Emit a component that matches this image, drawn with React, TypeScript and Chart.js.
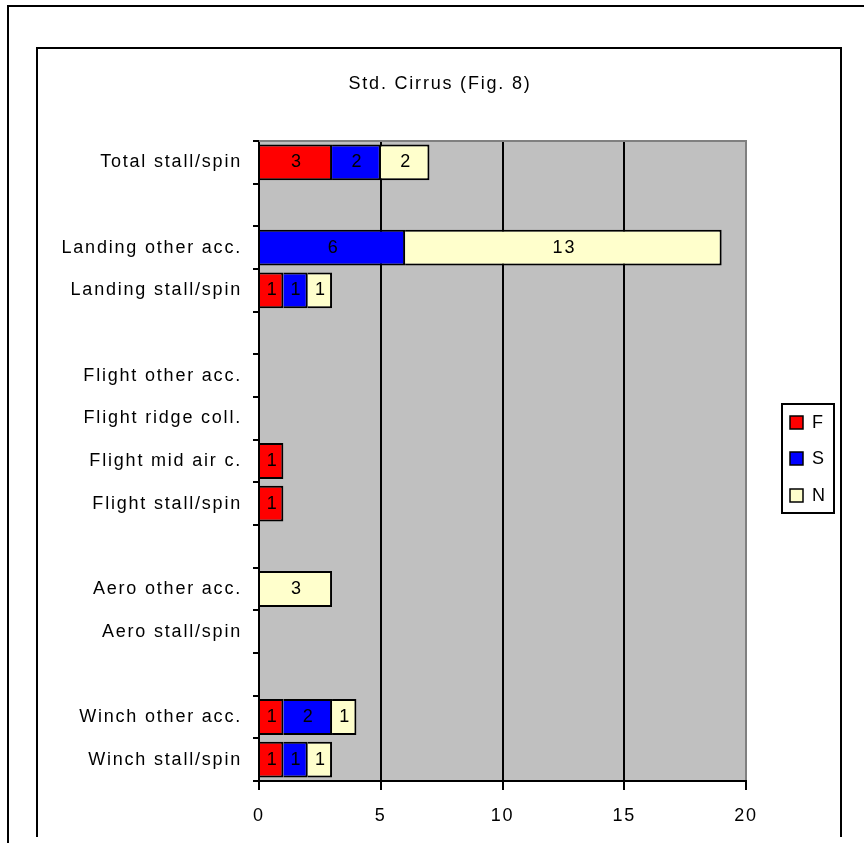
import { useEffect, useRef } from "react";
import { Chart, registerables } from "chart.js";

Chart.register(...registerables);

// Accident categories, top to bottom (blank entries are spacer rows)
const categories = [
  "Total stall/spin",
  "",
  "Landing other acc.",
  "Landing stall/spin",
  "",
  "Flight other acc.",
  "Flight ridge coll.",
  "Flight mid air c.",
  "Flight stall/spin",
  "",
  "Aero other acc.",
  "Aero stall/spin",
  "",
  "Winch other acc.",
  "Winch stall/spin",
];

const seriesNames = ["F", "S", "N"];
const fValues = [3, null, null, 1, null, null, null, 1, 1, null, null, null, null, 1, 1];
const sValues = [2, null, 6, 1, null, null, null, null, null, null, null, null, null, 2, 1];
const nValues = [2, null, 13, 1, null, null, null, null, null, null, 3, null, null, 1, 1];

const xMin = 0;
const xMax = 20;
const xStep = 5;

const chartTitle = "Std. Cirrus (Fig. 8)";

const FONT_FAMILY = "'Liberation Sans', Arial, sans-serif";
const FONT_SIZE = 18;
const SPACING = "1.8px";

const framePlugin = {
  id: "frame",
  beforeDraw(chart: any) {
    const { ctx, chartArea } = chart;
    ctx.save();
    ctx.fillStyle = "#c0c0c0";
    ctx.fillRect(chartArea.left, chartArea.top, chartArea.right - chartArea.left, chartArea.bottom - chartArea.top);
    ctx.restore();
    (ctx as any).letterSpacing = SPACING;
  },
  beforeDatasetsDraw(chart: any) {
    const { ctx, chartArea } = chart;
    ctx.save();
    ctx.strokeStyle = "#808080";
    ctx.lineWidth = 2;
    ctx.beginPath();
    ctx.moveTo(chartArea.left, chartArea.top);
    ctx.lineTo(chartArea.right, chartArea.top);
    ctx.lineTo(chartArea.right, chartArea.bottom - 1);
    ctx.stroke();
    ctx.restore();
  },
  afterDatasetsDraw(chart: any) {
    const { ctx } = chart;
    ctx.save();
    (ctx as any).letterSpacing = SPACING;
    ctx.font = `${FONT_SIZE}px ${FONT_FAMILY}`;
    ctx.fillStyle = "#000";
    ctx.textAlign = "center";
    ctx.textBaseline = "middle";
    chart.data.datasets.forEach((ds: any, di: number) => {
      const meta = chart.getDatasetMeta(di);
      meta.data.forEach((bar: any, i: number) => {
        const v = ds.data[i];
        if (v == null) return;
        const cx = (bar.x + bar.base) / 2 + 1;
        ctx.fillText(String(v), cx, bar.y);
      });
    });
    ctx.restore();
  },
  afterDraw(chart: any) {
    const { ctx } = chart;
    ctx.save();
    (ctx as any).letterSpacing = SPACING;
    ctx.font = `${FONT_SIZE}px ${FONT_FAMILY}`;
    ctx.fillStyle = "#000";
    ctx.textAlign = "center";
    ctx.textBaseline = "middle";
    ctx.fillText(chartTitle, 440, 84);

    // legend box
    ctx.strokeStyle = "#000";
    ctx.lineWidth = 2;
    ctx.strokeRect(782, 404, 52, 109);
    ctx.textAlign = "left";
    const rows = [422, 458, 495];
    chart.data.datasets.forEach((ds: any, di: number) => {
      const y = rows[di];
      ctx.fillStyle = ds.backgroundColor;
      ctx.fillRect(790, y - 6, 13, 13);
      ctx.lineWidth = 1.5;
      ctx.strokeStyle = "#000";
      ctx.strokeRect(790, y - 6, 13, 13);
      ctx.fillStyle = "#000";
      ctx.fillText(ds.label, 812, y + 1);
    });
    ctx.restore();
  },
};

export default function App() {
  const ref = useRef<HTMLCanvasElement>(null);

  useEffect(() => {
    const canvas = ref.current;
    if (!canvas) return;
    const font = { family: FONT_FAMILY, size: FONT_SIZE };
    const chart = new Chart(canvas, {
      type: "bar",
      data: {
        labels: categories,
        datasets: [
          { label: seriesNames[0], data: fValues, backgroundColor: "#ff0000" },
          { label: seriesNames[1], data: sValues, backgroundColor: "#0000ff" },
          { label: seriesNames[2], data: nValues, backgroundColor: "#ffffcc" },
        ],
      },
      options: {
        indexAxis: "y",
        responsive: false,
        maintainAspectRatio: false,
        animation: false,
        layout: { padding: { top: 141, right: 118, left: 0, bottom: 0 } },
        datasets: {
          bar: {
            barPercentage: 0.84,
            categoryPercentage: 1,
            borderColor: "#000",
            borderWidth: 2,
          },
        },
        plugins: {
          legend: { display: false },
          title: { display: false },
          tooltip: { enabled: false },
        },
        scales: {
          x: {
            stacked: true,
            min: xMin,
            max: xMax,
            ticks: { stepSize: xStep, padding: 15, color: "#000", font },
            grid: { color: "#000", lineWidth: 2, tickLength: 9 },
            border: { color: "#000", width: 2 },
            afterFit: (s: any) => {
              s.height = 62;
            },
          },
          y: {
            stacked: true,
            ticks: { autoSkip: false, padding: 11, color: "#000", font },
            grid: { offset: true, drawOnChartArea: false, color: "#000", lineWidth: 2, tickLength: 6 },
            border: { color: "#000", width: 2 },
            afterFit: (s: any) => {
              s.width = 259;
            },
          },
        },
      } as any,
      plugins: [framePlugin],
    });
    return () => chart.destroy();
  }, []);

  return (
    <div style={{ position: "absolute", left: 0, top: 0, width: 864, height: 843, overflow: "hidden", background: "#fff" }}>
      <div
        style={{
          position: "absolute",
          left: 7,
          top: 5,
          width: 900,
          height: 900,
          borderLeft: "2px solid #000",
          borderTop: "2px solid #000",
        }}
      />
      <div
        style={{
          position: "absolute",
          left: 36,
          top: 47,
          width: 802,
          height: 788,
          borderLeft: "2px solid #000",
          borderTop: "2px solid #000",
          borderRight: "2px solid #000",
        }}
      />
      <canvas ref={ref} width={864} height={843} style={{ position: "absolute", left: 0, top: 0 }} />
    </div>
  );
}
